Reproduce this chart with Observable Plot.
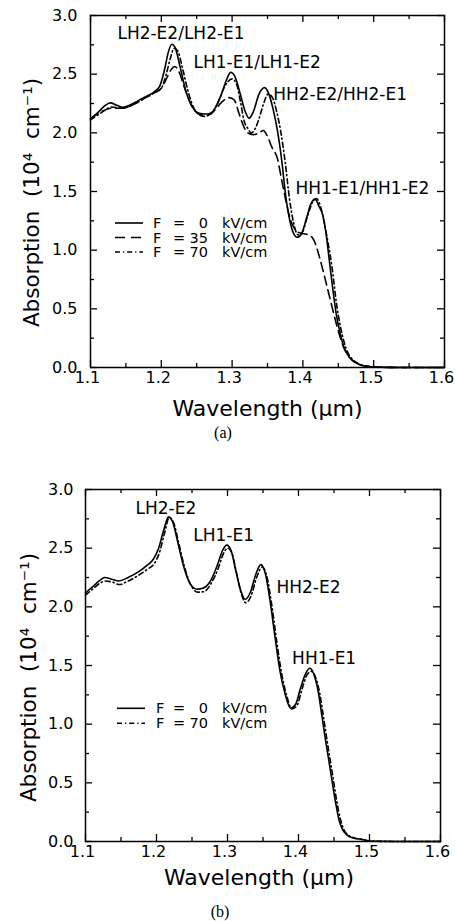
<!DOCTYPE html>
<html><head><meta charset="utf-8">
<script src="https://cdn.jsdelivr.net/npm/d3@7"></script>
<script src="https://cdn.jsdelivr.net/npm/@observablehq/plot@0.6"></script>
<style>
html,body{margin:0;padding:0;background:#fff;}
#page{position:relative;width:455px;height:921px;overflow:hidden;background:#fff;}
#page svg{position:absolute;left:0;}
.cap{position:absolute;width:40px;text-align:center;font-family:"Liberation Serif","Times New Roman",serif;font-size:16px;line-height:20px;color:#000;}
</style></head><body><div id="page"></div>
<script>
// ---------- tick values ----------
const xMajor = [1.1, 1.2, 1.3, 1.4, 1.5, 1.6];
const xMinor = [1.15, 1.25, 1.35, 1.45, 1.55];
const yMajor = [0, 0.5, 1.0, 1.5, 2.0, 2.5, 3.0];
const yMinor = [0.25, 0.75, 1.25, 1.75, 2.25, 2.75];

// ---------- panel (a) data ----------
const wlA0 = [1.100,1.110,1.120,1.128,1.137,1.146,1.160,1.175,1.190,1.198,1.205,1.210,1.215,1.220,1.227,1.235,1.245,1.255,1.265,1.275,1.285,1.292,1.298,1.304,1.312,1.318,1.324,1.330,1.338,1.346,1.352,1.358,1.364,1.370,1.376,1.382,1.387,1.392,1.398,1.405,1.411,1.417,1.423,1.428,1.432,1.437,1.442,1.447,1.452,1.457,1.463,1.470,1.478,1.488,1.500,1.520,1.550,1.600];
const abA0 = [2.12,2.17,2.23,2.255,2.235,2.218,2.25,2.30,2.35,2.40,2.55,2.69,2.755,2.72,2.55,2.35,2.21,2.165,2.16,2.20,2.33,2.45,2.515,2.48,2.32,2.19,2.125,2.18,2.33,2.385,2.33,2.20,2.02,1.77,1.45,1.24,1.14,1.11,1.14,1.27,1.39,1.435,1.37,1.30,1.17,0.93,0.68,0.46,0.31,0.19,0.11,0.06,0.03,0.012,0.004,0.001,0,0];

const wlA35 = [1.100,1.115,1.130,1.145,1.160,1.175,1.190,1.200,1.208,1.214,1.219,1.225,1.233,1.243,1.255,1.265,1.275,1.285,1.296,1.303,1.310,1.316,1.322,1.330,1.338,1.344,1.350,1.356,1.364,1.370,1.376,1.382,1.387,1.394,1.401,1.408,1.413,1.418,1.422,1.427,1.432,1.439,1.446,1.452,1.457,1.463,1.470,1.478,1.488,1.500,1.520,1.550,1.600];
const abA35 = [2.12,2.18,2.21,2.21,2.24,2.29,2.34,2.38,2.47,2.54,2.565,2.52,2.38,2.23,2.155,2.15,2.19,2.26,2.30,2.28,2.16,2.06,2.00,1.985,2.00,2.02,1.97,1.88,1.78,1.60,1.42,1.27,1.196,1.15,1.14,1.13,1.11,1.05,0.97,0.86,0.74,0.57,0.40,0.27,0.18,0.11,0.06,0.03,0.012,0.004,0.001,0,0];

const wlA70 = [1.100,1.115,1.130,1.145,1.160,1.175,1.190,1.200,1.207,1.213,1.218,1.223,1.230,1.238,1.248,1.260,1.270,1.280,1.290,1.300,1.306,1.312,1.317,1.322,1.327,1.333,1.338,1.344,1.351,1.357,1.363,1.369,1.375,1.381,1.387,1.393,1.399,1.406,1.413,1.419,1.425,1.430,1.435,1.441,1.448,1.453,1.458,1.464,1.470,1.478,1.490,1.500,1.520,1.550,1.600];
const abA70 = [2.11,2.17,2.22,2.21,2.24,2.29,2.34,2.38,2.50,2.64,2.72,2.70,2.55,2.35,2.19,2.14,2.16,2.26,2.40,2.46,2.42,2.26,2.10,2.04,2.00,2.04,2.12,2.24,2.33,2.30,2.18,2.00,1.75,1.44,1.23,1.13,1.15,1.28,1.40,1.44,1.37,1.24,1.08,0.86,0.52,0.35,0.22,0.12,0.07,0.035,0.012,0.005,0.001,0,0];

const labelTextA = ["LH2-E2/LH2-E1", "LH1-E1/LH1-E2", "HH2-E2/HH2-E1", "HH1-E1/HH1-E2"];
const labelXA = [1.138, 1.2455, 1.358, 1.3895];
const labelYA = [2.85, 2.595, 2.327, 1.528];
const legendFieldA = ["0", "35", "70"];

// ---------- panel (b) data ----------
const wlB0 = [1.100,1.110,1.120,1.127,1.137,1.147,1.160,1.175,1.187,1.196,1.203,1.210,1.217,1.223,1.230,1.238,1.247,1.257,1.266,1.276,1.286,1.293,1.299,1.305,1.312,1.319,1.325,1.332,1.340,1.347,1.353,1.360,1.367,1.374,1.381,1.389,1.396,1.403,1.410,1.416,1.422,1.428,1.433,1.438,1.443,1.447,1.452,1.457,1.462,1.468,1.477,1.487,1.497,1.510,1.550,1.600];
const abB0 = [2.12,2.17,2.225,2.25,2.235,2.22,2.25,2.30,2.355,2.41,2.50,2.65,2.767,2.72,2.55,2.35,2.20,2.15,2.16,2.22,2.36,2.48,2.526,2.48,2.30,2.13,2.064,2.12,2.28,2.36,2.29,2.05,1.74,1.45,1.26,1.136,1.17,1.31,1.43,1.476,1.42,1.27,1.07,0.866,0.68,0.525,0.34,0.185,0.10,0.057,0.03,0.02,0.007,0.002,0,0];

const wlB70 = [1.100,1.110,1.120,1.128,1.138,1.148,1.160,1.175,1.187,1.197,1.204,1.211,1.218,1.224,1.231,1.239,1.248,1.258,1.267,1.277,1.287,1.294,1.300,1.306,1.313,1.320,1.326,1.333,1.341,1.349,1.355,1.362,1.369,1.376,1.383,1.391,1.398,1.405,1.412,1.418,1.424,1.430,1.435,1.440,1.445,1.449,1.454,1.459,1.464,1.470,1.479,1.489,1.499,1.510,1.550,1.600];
const abB70 = [2.10,2.15,2.20,2.22,2.21,2.19,2.22,2.27,2.32,2.37,2.46,2.62,2.76,2.72,2.55,2.35,2.19,2.125,2.13,2.20,2.33,2.45,2.50,2.46,2.28,2.10,2.035,2.09,2.25,2.34,2.27,2.03,1.72,1.44,1.25,1.13,1.16,1.30,1.42,1.45,1.40,1.26,1.07,0.87,0.68,0.53,0.34,0.19,0.10,0.055,0.03,0.018,0.007,0.002,0,0];

const labelTextB = ["LH2-E2", "LH1-E1", "HH2-E2", "HH1-E1"];
const labelXB = [1.1704, 1.2517, 1.369, 1.391];
const labelYB = [2.84, 2.61, 2.164, 1.561];
const legendFieldB = ["0", "70"];

const xTitle = "Wavelength (\u03bcm)";
const yTitle = "Absorption\u00a0 (10\u2074\u00a0 cm\u207b\u00b9)";

// ---------- styles ----------
const dashStyles = {"0": null, "35": "9,5", "70": "5,3,1.2,3"};
const legendDash = {"0": null, "35": "10,6", "70": "5,3,1.2,3"};
const FONT = "DejaVu Sans";

function rows(wl, ab, f) { return wl.map((w, i) => ({wl: w, abs: ab[i], field: f})); }

function panel(cfg) {
  const W = 455;
  const innerH = cfg.height - cfg.mt - cfg.mb;
  const innerW = W - cfg.ml - cfg.mr;
  const labels = cfg.labelText.map((t, i) => ({text: t, x: cfg.labelX[i], y: cfg.labelY[i]}));
  const marks = [
    Plot.frame({stroke: "black", strokeWidth: 1.5}),
    Plot.tickX(xMajor, {x: d => d, insetTop: innerH - 7, strokeWidth: 1.3}),
    Plot.tickX(xMinor, {x: d => d, insetTop: innerH - 4, strokeWidth: 1.3}),
    Plot.tickX(xMajor, {x: d => d, insetBottom: innerH - 7, strokeWidth: 1.3}),
    Plot.tickX(xMinor, {x: d => d, insetBottom: innerH - 4, strokeWidth: 1.3}),
    Plot.tickY(yMajor, {y: d => d, insetRight: innerW - 7, strokeWidth: 1.3}),
    Plot.tickY(yMinor, {y: d => d, insetRight: innerW - 4, strokeWidth: 1.3}),
    Plot.tickY(yMajor, {y: d => d, insetLeft: innerW - 7, strokeWidth: 1.3}),
    Plot.tickY(yMinor, {y: d => d, insetLeft: innerW - 4, strokeWidth: 1.3}),
    Plot.axisX({ticks: xMajor, tickSize: 0, tickPadding: cfg.padX, dx: -3, fontSize: 16, tickFormat: d3.format(".1f"), label: null}),
    Plot.axisY({ticks: yMajor, tickSize: 0, tickPadding: cfg.padY, fontSize: 16, tickFormat: d3.format(".1f"), label: null}),
  ];
  for (const s of cfg.series) {
    marks.push(Plot.line(s.data, {x: "wl", y: "abs", stroke: "black", strokeWidth: 1.6,
      strokeDasharray: dashStyles[s.field], curve: "monotone-x"}));
  }
  marks.push(Plot.text(labels, {x: "x", y: "y", text: "text", textAnchor: "start", fontSize: 17, fill: "black"}));
  marks.push(Plot.text([xTitle], {text: d => d, frameAnchor: "bottom", textAnchor: "middle", lineAnchor: "middle",
    dx: cfg.xtDx, dy: cfg.xtDy, fontSize: 22, fill: "black"}));
  marks.push(Plot.text([yTitle], {text: d => d, frameAnchor: "left", textAnchor: "middle", lineAnchor: "middle",
    rotate: -90, dx: cfg.ytDx, dy: cfg.ytDy, fontSize: 21.5, fill: "black"}));
  const svg = Plot.plot({
    width: W, height: cfg.height,
    marginTop: cfg.mt, marginBottom: cfg.mb, marginLeft: cfg.ml, marginRight: cfg.mr,
    x: {domain: [1.1, 1.6]},
    y: {domain: [0, 3]},
    style: {fontFamily: FONT, fontSize: "16px", color: "black", background: "white", overflow: "visible"},
    marks
  });
  // legend
  const g = d3.select(svg).append("g").attr("class", "legend")
    .attr("font-family", FONT).attr("font-size", 14.5).attr("fill", "black")
    .attr("text-anchor", "start");
  cfg.legendField.forEach((f, i) => {
    const y = cfg.legY[i];
    g.append("line").attr("x1", cfg.legX1).attr("x2", cfg.legX2).attr("y1", y).attr("y2", y)
      .attr("stroke", "black").attr("stroke-width", 1.6)
      .attr("stroke-dasharray", legendDash[f]);
    g.append("text").attr("x", cfg.legF).attr("y", y).attr("dy", "0.35em").text("F");
    g.append("text").attr("x", 173).attr("y", y).attr("dy", "0.35em").text("=");
    g.append("text").attr("x", 208).attr("y", y).attr("dy", "0.35em").attr("text-anchor", "end").text(f);
    g.append("text").attr("x", 222).attr("y", y).attr("dy", "0.35em").text("kV/cm");
  });
  return svg;
}

const page = document.getElementById("page");

const svgA = panel({
  height: 420, mt: 15, mb: 53, ml: 90, mr: 11, padX: 4, padY: 13,
  xtDx: 0, xtDy: 41, ytDx: -58, ytDy: 11,
  series: [
    {field: "0", data: rows(wlA0, abA0, "0")},
    {field: "35", data: rows(wlA35, abA35, "35")},
    {field: "70", data: rows(wlA70, abA70, "70")}
  ],
  labelText: labelTextA, labelX: labelXA, labelY: labelYA,
  legendField: legendFieldA, legY: [223, 237.5, 252], legX1: 115, legX2: 143, legF: 153
});
svgA.style.top = "0px";
page.appendChild(svgA);

const capA = document.createElement("div");
capA.className = "cap"; capA.textContent = "(a)";
capA.style.left = "203px"; capA.style.top = "423px";
page.appendChild(capA);

const svgB = panel({
  height: 430, mt: 29, mb: 49, ml: 85, mr: 15, padX: 4, padY: 12,
  xtDx: -4, xtDy: 36, ytDx: -56.5, ytDy: 12,
  series: [
    {field: "0", data: rows(wlB0, abB0, "0")},
    {field: "70", data: rows(wlB70, abB70, "70")}
  ],
  labelText: labelTextB, labelX: labelXB, labelY: labelYB,
  legendField: legendFieldB, legY: [248.3, 263.3], legX1: 117, legX2: 145, legF: 156
});
svgB.style.top = "460px";
page.appendChild(svgB);

const capB = document.createElement("div");
capB.className = "cap"; capB.textContent = "(b)";
capB.style.left = "200px"; capB.style.top = "902px";
page.appendChild(capB);
</script></body></html>
